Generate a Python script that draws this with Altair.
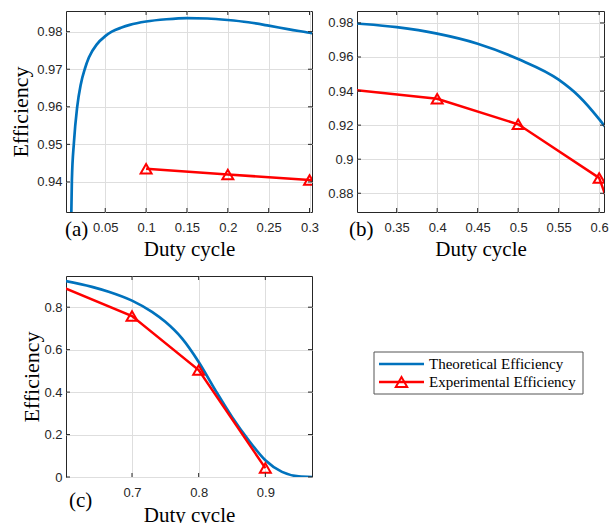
import altair as alt
import pandas as pd

# Theoretical efficiency curve versus duty cycle
theory_duty = [0.008, 0.0092, 0.0117, 0.0157, 0.02, 0.0252, 0.03, 0.04, 0.05, 0.058,
               0.07, 0.08, 0.1, 0.125, 0.15, 0.175, 0.2, 0.225, 0.25, 0.275, 0.3,
               0.35, 0.4, 0.45, 0.5, 0.55, 0.575, 0.6, 0.64, 0.665, 0.7, 0.73, 0.75,
               0.775, 0.8, 0.825, 0.85, 0.875, 0.9, 0.925, 0.95, 0.97]
theory_eff = [0.925, 0.9405, 0.9505, 0.96, 0.9659, 0.9702, 0.9731, 0.9767, 0.9788, 0.98,
              0.9811, 0.9818, 0.9827, 0.9833, 0.9836, 0.9835, 0.9831, 0.9825, 0.9816, 0.9806, 0.9797,
              0.9775, 0.9737, 0.9678, 0.9588, 0.9467, 0.937, 0.9235, 0.896, 0.873, 0.831, 0.778, 0.731,
              0.653, 0.542, 0.409, 0.283, 0.173, 0.079, 0.024, 0.003, 0.0]

# Measured efficiency
exp_duty = [0.1, 0.2, 0.3, 0.4, 0.5, 0.6, 0.7, 0.8, 0.9]
exp_eff = [0.9435, 0.942, 0.9405, 0.9355, 0.9205, 0.889, 0.758, 0.504, 0.042]

series_names = ["Theoretical Efficiency", "Experimental Efficiency"]
panel_tags = ["(a)", "(b)", "(c)"]

# Axis ticks for each panel
ticks_a_x = [0.05, 0.1, 0.15, 0.2, 0.25, 0.3]
ticks_a_y = [0.94, 0.95, 0.96, 0.97, 0.98]
ticks_b_x = [0.35, 0.4, 0.45, 0.5, 0.55, 0.6]
ticks_b_y = [0.88, 0.9, 0.92, 0.94, 0.96, 0.98]
ticks_c_x = [0.7, 0.8, 0.9]
ticks_c_y = [0.0, 0.2, 0.4, 0.6, 0.8]

BLUE = "#0072BD"
RED = "#FF0000"
INK = "#262626"
SERIF = "Liberation Serif"
SANS = "Liberation Sans"

theory_df = pd.DataFrame({"duty": theory_duty, "eff": theory_eff})
exp_df = pd.DataFrame({"duty": exp_duty, "eff": exp_eff})


def panel(xdom, ydom, xticks, yticks, xfmt, yfmt, w, h, ytitle, ytitle_x,
          xtitle_y, tag, tag_x, tag_y, legend=False):
    xaxis = alt.Axis(values=xticks, format=xfmt, title="Duty cycle",
                     titleFont=SERIF, titleFontSize=21, titleFontWeight="normal",
                     titleColor="black", titleY=xtitle_y, titleBaseline="alphabetic",
                     labelFont=SANS, labelFontSize=13, labelColor=INK, labelPadding=9,
                     ticks=False, tickSize=0, domain=False, grid=True,
                     gridColor="#dedede", gridWidth=1, labelFlush=False,
                     labelOverlap=False)
    yaxis = alt.Axis(values=yticks, format=yfmt, title=ytitle,
                     titleFont=SERIF, titleFontSize=22, titleFontWeight="normal",
                     titleColor="black", titleX=ytitle_x, titleBaseline="middle",
                     labelFont=SANS, labelFontSize=13, labelColor=INK, labelPadding=4,
                     ticks=False, tickSize=0, domain=False, grid=True,
                     gridColor="#dedede", gridWidth=1, labelFlush=False,
                     labelOverlap=False)
    xs = alt.Scale(domain=xdom, nice=False, zero=False)
    ys = alt.Scale(domain=ydom, nice=False, zero=False)

    theory = alt.Chart(theory_df).mark_line(
        color=BLUE, strokeWidth=2.7, clip=True, interpolate="monotone"
    ).encode(x=alt.X("duty:Q", scale=xs, axis=xaxis),
             y=alt.Y("eff:Q", scale=ys, axis=yaxis))

    measured = alt.Chart(exp_df).mark_line(
        color=RED, strokeWidth=2.5, clip=True
    ).encode(x="duty:Q", y="eff:Q")

    markers = alt.Chart(exp_df).transform_filter(
        alt.FieldRangePredicate(field="duty", range=list(xdom))
    ).mark_point(shape="triangle-up", filled=False, size=120, strokeWidth=2,
                 color=RED, clip=True, opacity=1).encode(x="duty:Q", y="eff:Q")

    xt = pd.DataFrame({"duty": xticks})
    yt = pd.DataFrame({"eff": yticks})
    tick_style = dict(color=INK, strokeWidth=1)
    xb = alt.Chart(xt).mark_rule(**tick_style).encode(
        x="duty:Q", y=alt.value(h), y2=alt.value(h - 4))
    xtp = alt.Chart(xt).mark_rule(**tick_style).encode(
        x="duty:Q", y=alt.value(0), y2=alt.value(4))
    yl = alt.Chart(yt).mark_rule(**tick_style).encode(
        y="eff:Q", x=alt.value(0), x2=alt.value(4))
    yr = alt.Chart(yt).mark_rule(**tick_style).encode(
        y="eff:Q", x=alt.value(w), x2=alt.value(w - 4))

    label = alt.Chart(pd.DataFrame({"tag": [tag]})).mark_text(
        font=SERIF, fontSize=21, align="left", baseline="alphabetic", color="black"
    ).encode(x=alt.value(tag_x), y=alt.value(tag_y), text="tag:N")

    layers = [theory, measured, markers, xb, xtp, yl, yr, label]

    if legend:
        names = pd.DataFrame({"series": series_names})
        layers.append(alt.Chart(names.head(1)).mark_rect(
            fill="white", stroke="#555555", strokeWidth=1
        ).encode(x=alt.value(308), x2=alt.value(517),
                 y=alt.value(76), y2=alt.value(118)))
        row_y = [88, 106]
        row_col = [BLUE, RED]
        for i, name in enumerate(series_names):
            one = names[names["series"] == name]
            layers.append(alt.Chart(one).mark_rule(
                color=row_col[i], strokeWidth=2.7
            ).encode(x=alt.value(313), x2=alt.value(358), y=alt.value(row_y[i])))
            layers.append(alt.Chart(one).mark_text(
                font=SERIF, fontSize=15, align="left", baseline="middle", color="black"
            ).encode(x=alt.value(363), y=alt.value(row_y[i]), text="series:N"))
        exp_row = names[names["series"] == series_names[1]]
        layers.append(alt.Chart(exp_row).mark_point(
            shape="triangle-up", filled=False, size=130, strokeWidth=2, color=RED,
            opacity=1
        ).encode(x=alt.value(335.5), y=alt.value(row_y[1])))

    return alt.layer(*layers).properties(width=w, height=h)


pa = panel([0.002, 0.303], [0.932, 0.9855], ticks_a_x, ticks_a_y, ".2~f", ".2~f",
           246, 201, "Efficiency", -46, 43, panel_tags[0], -1, 225)
pb = panel([0.301, 0.606], [0.869, 0.987], ticks_b_x, ticks_b_y, ".2~f", ".2~f",
           247, 201, "", -46, 43, panel_tags[1], -8, 225)
pc = panel([0.601, 0.97], [0.0, 0.947], ticks_c_x, ticks_c_y, ".1~f", ".1~f",
           246, 201, "Efficiency", -35, 44, panel_tags[2], 3, 231, legend=True)

chart = alt.concat(
    pa, pb, pc, columns=2,
    spacing=alt.RowColnumber(row=64, column=45), bounds="flush",
).properties(
    autosize=alt.AutoSizeParams(type="none"),
    padding={"left": 66, "top": 11, "right": 610 - 66, "bottom": 523 - 11},
    background="white",
).configure_view(stroke=INK, strokeWidth=1)

chart.save("out.html", embed_options={"renderer": "svg", "actions": False})
